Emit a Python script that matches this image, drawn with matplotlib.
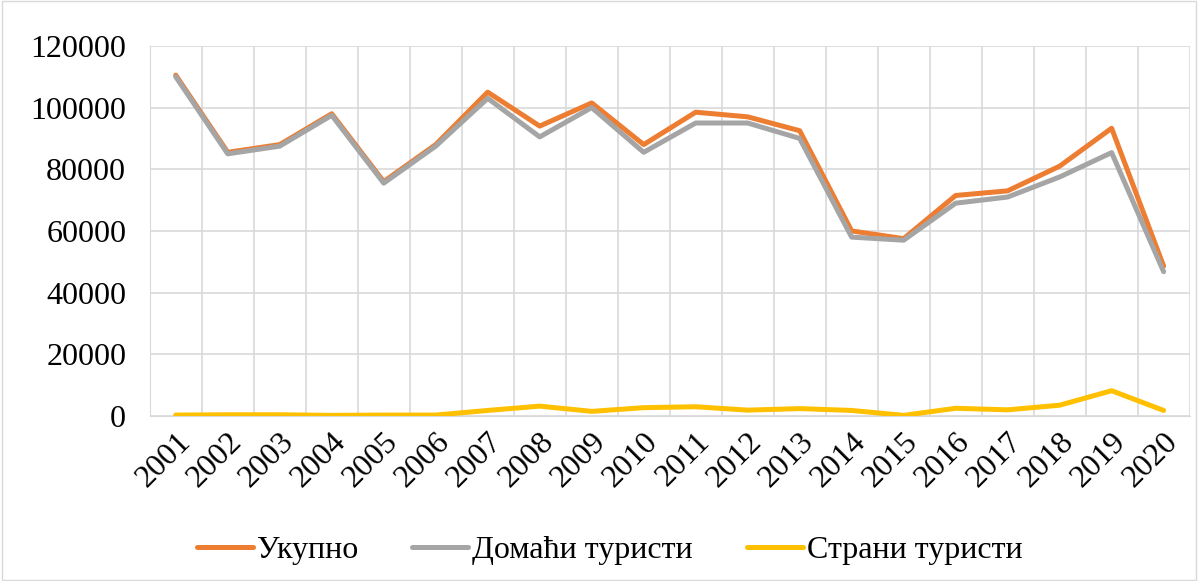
import numpy as np
import matplotlib.pyplot as plt
from matplotlib.ticker import FixedLocator

godine = [str(g) for g in range(2001, 2021)]
ukupno = [110500, 85500, 88000, 98000, 76000, 88000, 105000, 94000, 101500, 88000,
          98500, 97000, 92500, 60000, 57500, 71500, 73000, 81000, 93300, 48600]
domaci = [110000, 85000, 87500, 97500, 75500, 87500, 103000, 90500, 100000, 85500,
          95000, 95000, 90000, 58000, 57000, 69000, 71000, 77500, 85400, 46800]
strani = [300, 400, 400, 200, 300, 300, 1800, 3200, 1500, 2700,
          3000, 1900, 2400, 1800, 200, 2500, 2000, 3500, 8200, 1800]

plt.rcParams['font.family'] = ['Liberation Serif', 'DejaVu Serif']

fig = plt.figure(figsize=(11.98, 5.81), dpi=100)
ax = fig.add_axes([0.125, 0.284, 0.868, 0.637])

x = np.arange(len(godine))
ax.plot(x, ukupno, c='#ED7D31', lw=3.6, label='Укупно', solid_capstyle='round', zorder=3)
ax.plot(x, domaci, c='#A5A5A5', lw=3.6, label='Домаћи туристи', solid_capstyle='round', zorder=4)
ax.plot(x, strani, c='#FFC000', lw=3.6, label='Страни туристи', solid_capstyle='round', zorder=5)

ax.set_xlim(-0.5, len(godine) - 0.5)
ax.set_ylim(0, 120000)
ax.set_yticks(range(0, 120001, 20000))
ax.set_xticks(x)
ax.set_xticklabels(godine, rotation=45, ha='right', rotation_mode='anchor')
ax.xaxis.set_minor_locator(FixedLocator(np.arange(-0.5, len(godine), 1)))
ax.tick_params(axis='both', which='both', length=0, labelsize=23)
ax.tick_params(axis='x', pad=8)
ax.tick_params(axis='y', pad=17)
ax.grid(which='major', axis='y', c='#D9D9D9', lw=1.2)
ax.grid(which='minor', axis='x', c='#D9D9D9', lw=1.2)
ax.set_axisbelow(True)
for s in ['top', 'right']:
    ax.spines[s].set_visible(False)
ax.spines['left'].set_color('#D9D9D9')
ax.spines['bottom'].set_color('#D9D9D9')

fig.legend(loc='center', bbox_to_anchor=(0.509, 0.053), ncol=3, frameon=False,
           fontsize=23, handlelength=1.75, handletextpad=0.12, columnspacing=1.7)

fig.patches.append(plt.Rectangle((0.002, 0.002), 0.996, 0.996, transform=fig.transFigure,
                                 fill=False, ec='#D9D9D9', lw=1))

fig.savefig('out.png', dpi=100)
